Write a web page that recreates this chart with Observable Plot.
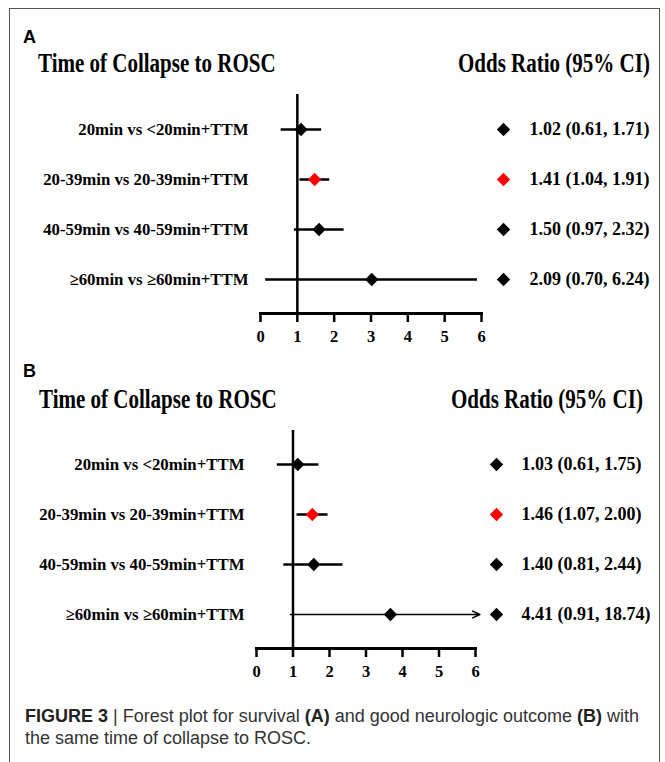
<!DOCTYPE html>
<html>
<head>
<meta charset="utf-8">
<script src="https://cdn.jsdelivr.net/npm/d3@7"></script>
<script src="https://cdn.jsdelivr.net/npm/@observablehq/plot@0.6"></script>
<style>
  html, body { margin: 0; padding: 0; background: #fff; }
  body { position: relative; width: 665px; height: 762px; overflow: hidden; font-family: "Liberation Serif", "Times New Roman", serif; }
  .box { position: absolute; left: 9px; top: 8px; width: 651px; height: 800px; border: 1.5px solid #555; box-sizing: border-box; }
  .abs { position: absolute; white-space: nowrap; }
  .letter { font-family: "Liberation Sans", Arial, sans-serif; font-weight: bold; font-size: 18px; line-height: 18px; }
  .hdr { font-family: "Liberation Serif", "Times New Roman", serif; font-weight: bold; font-size: 28px; line-height: 28px; transform: scaleX(0.75); }
  .hl { transform-origin: left center; }
  .hr { transform-origin: right center; }
  .panel { position: absolute; left: 0; }
  .caption { position: absolute; left: 25px; top: 705px; font-family: "Liberation Sans", Arial, sans-serif; font-size: 18px; line-height: 22px; color: #333; white-space: nowrap; }
  .caption b { color: #222; }
</style>
</head>
<body>
<div class="box"></div>

<div class="abs letter" style="left:23px; top:28px;">A</div>
<div class="abs hdr hl" style="left:38px; top:49px;">Time of Collapse to ROSC</div>
<div class="abs hdr hr" style="right:15px; top:49px;">Odds Ratio (95% CI)</div>
<div id="panelA" class="panel" style="top:80px;"></div>

<div class="abs letter" style="left:23px; top:362px;">B</div>
<div class="abs hdr hl" style="left:39px; top:385px;">Time of Collapse to ROSC</div>
<div class="abs hdr hr" style="right:22px; top:385px;">Odds Ratio (95% CI)</div>
<div id="panelB" class="panel" style="top:416px;"></div>

<div class="caption"><b>FIGURE 3</b> | Forest plot for survival <b>(A)</b> and good neurologic outcome <b>(B)</b> with<br>the same time of collapse to ROSC.</div>

<script>
// ---- data ----
const labels = ["20min vs <20min+TTM", "20-39min vs 20-39min+TTM", "40-59min vs 40-59min+TTM", "≥60min vs ≥60min+TTM"];
const xTicks = [0, 1, 2, 3, 4, 5, 6];

// Panel A (survival): plotted positions, printed labels
const estA = [1.10, 1.47, 1.59, 3.02];
const loA  = [0.56, 1.07, 0.92, 0.14];
const hiA  = [1.66, 1.88, 2.27, 5.89];
const orA  = ["1.02 (0.61, 1.71)", "1.41 (1.04, 1.91)", "1.50 (0.97, 2.32)", "2.09 (0.70, 6.24)"];
const colA = ["black", "red", "black", "black"];
const arrA = [false, false, false, false];

// Panel B (good neurologic outcome)
const estB = [1.13, 1.53, 1.57, 3.67];
const loB  = [0.57, 1.11, 0.75, 0.93];
const hiB  = [1.71, 1.96, 2.37, 6.12];
const orB  = ["1.03 (0.61, 1.75)", "1.46 (1.07, 2.00)", "1.40 (0.81, 2.44)", "4.41 (0.91, 18.74)"];
const colB = ["black", "red", "black", "black"];
const arrB = [false, false, false, true];

function rows(est, lo, hi, or, col, arr) {
  return labels.map((label, i) => ({label, est: est[i], lo: lo[i], hi: hi[i], or: or[i], color: col[i], arrow: arr[i]}));
}

function panel(data, o) {
  return Plot.plot({
    width: 665,
    height: o.height,
    marginLeft: o.left,
    marginRight: o.right,
    marginTop: 14,
    marginBottom: 37,
    x: {domain: [0, 6], label: null},
    y: {type: "point", domain: labels, padding: 0.65, label: null},
    color: {type: "identity"},
    style: {fontFamily: "'Liberation Serif', 'Times New Roman', serif", fontWeight: "bold", background: "transparent", overflow: "visible", color: "black"},
    marks: [
      Plot.ruleX([1], {strokeWidth: 2.5}),
      Plot.frame({anchor: "bottom", strokeWidth: 3}),
      Plot.axisX({ticks: xTicks, tickFormat: d => String(d), tickSize: 9, tickPadding: 8, strokeWidth: 2.5, fontSize: 16.5, label: null}),
      Plot.axisY({tickSize: 0, tickPadding: 12, fontSize: 16.8, label: null}),
      Plot.ruleY(data.filter(d => !d.arrow), {y: "label", x1: "lo", x2: "hi", strokeWidth: 2.5}),
      Plot.arrow(data.filter(d => d.arrow), {x1: "lo", x2: "hi", y1: "label", y2: "label", strokeWidth: 1.5, headLength: 8, headAngle: 50}),
      Plot.dot(data, {x: "est", y: "label", symbol: "diamond2", r: 6, fill: "color"}),
      Plot.dot(data, {y: "label", frameAnchor: "right", dx: o.dDot, symbol: "diamond2", r: 6, fill: "color"}),
      Plot.text(data, {y: "label", text: "or", frameAnchor: "right", dx: o.dText, textAnchor: "start", fontSize: 18})
    ]
  });
}

document.getElementById("panelA").append(panel(rows(estA, loA, hiA, orA, colA, arrA), {height: 270, left: 260, right: 184, dDot: 22, dText: 48}));
document.getElementById("panelB").append(panel(rows(estB, loB, hiB, orB, colB, arrB), {height: 269, left: 256, right: 190, dDot: 21, dText: 46}));
</script>
</body>
</html>
